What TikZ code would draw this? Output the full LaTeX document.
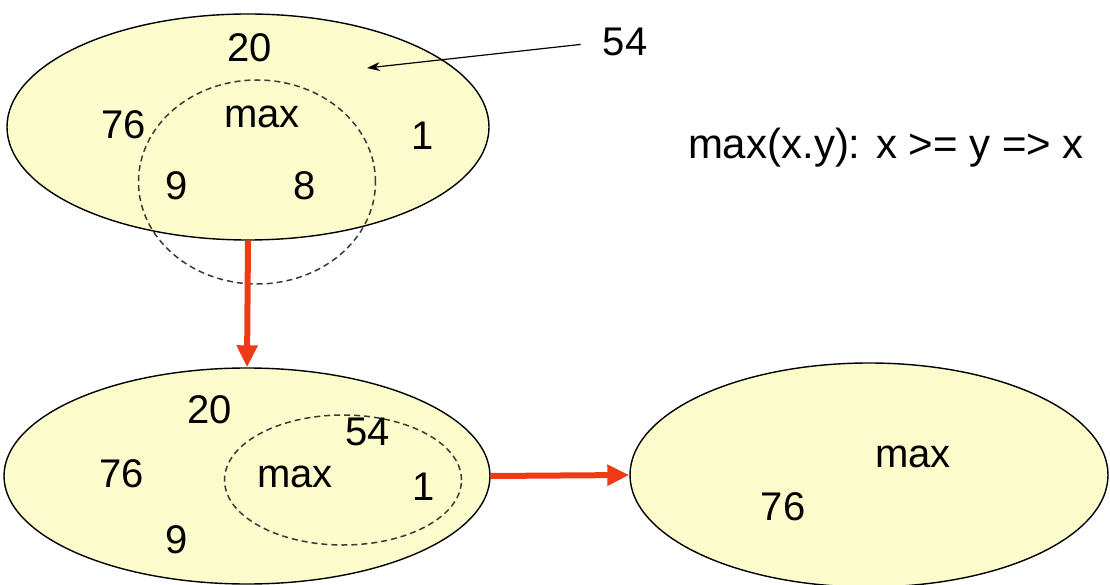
\documentclass[tikz,border=0pt]{standalone}
\usepackage{fontspec}
\setmainfont{Liberation Sans}
\usetikzlibrary{arrows.meta,shapes.geometric}
\definecolor{SetYellow}{HTML}{FCFBCB}
\definecolor{FlowRed}{HTML}{F03A17}
\definecolor{DashGray}{HTML}{3A3A3A}

\begin{document}
\begin{tikzpicture}[
  x=1pt,y=-1pt,
  every node/.style={font=\fontsize{40}{44}\selectfont,inner sep=0pt},
  set/.style={ellipse,draw=black,line width=1.4pt,fill=SetYellow},
  sub/.style={ellipse,draw=DashGray,dash pattern=on 6pt off 4pt,line width=1.5pt},
  flow/.style={-{Triangle[length=22pt,width=20pt]},line width=6pt,color=FlowRed},
  ptr/.style={-{Stealth[length=13pt,width=9pt]},line width=1.2pt}
]
\useasboundingbox (0,0) rectangle (1110,585);
% first set
\node[set,minimum width=482pt,minimum height=226pt] (top) at (248,127) {};
\node[sub,minimum width=237pt,minimum height=204pt] (topsub) at (257,182) {};
\node (t20) at (250,48) {20};
\node (t76) at (124,125) {76};
\node (tmax) at (262,117) {max};
\node (t1) at (423,136) {1};
\node (t9) at (177,186) {9};
\node (t8) at (305,186) {8};
\node (n54) at (625,42) {54};
\coordinate (tip) at (367,68);
\draw[ptr,shorten <=22pt] (n54.west) -- (tip);
\node[font=\fontsize{42}{46}\selectfont] (rule) at (886,148) {max(x.y): x >= y => x};
% second set
\node[set,minimum width=486pt,minimum height=216pt] (low) at (247,476) {};
\node[sub,minimum width=237pt,minimum height=130pt] (lowsub) at (343,480) {};
\node (l20) at (210,410) {20};
\node (l54) at (368,432) {54};
\node (l76) at (122,474) {76};
\node (lmax) at (295,477) {max};
\node (l1) at (424,487) {1};
\node (l9) at (177,540) {9};
% result
\node[set,minimum width=478pt,minimum height=224pt] (res) at (869,475) {};
\node (rmax) at (913,457) {max};
\node (r76) at (783,507) {76};
\draw[flow] (top.south) -- (low.north);
\draw[flow] (low.east) -- (res.west);
\end{tikzpicture}
\end{document}
